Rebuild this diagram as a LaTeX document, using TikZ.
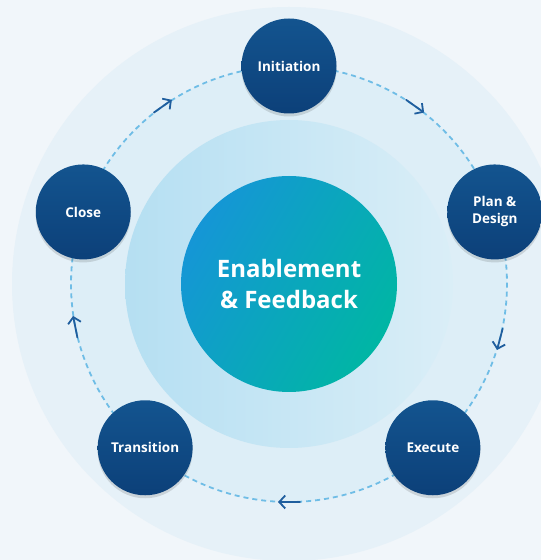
\documentclass[tikz,border=0pt]{standalone}
\usepackage{fontspec}
\setmainfont{Open Sans}
\usetikzlibrary{arrows.meta,decorations.markings,shadows}
\definecolor{bgc}{HTML}{F1F6FA}
\definecolor{outerc}{HTML}{E6F1F8}
\definecolor{ringc}{HTML}{DDEEF7}
\definecolor{midl}{HTML}{B5DFF2}
\definecolor{midr}{HTML}{DAEEF7}
\definecolor{cenl}{HTML}{1596D6}
\definecolor{cenr}{HTML}{00B6A4}
\definecolor{nodetop}{HTML}{13548F}
\definecolor{nodebot}{HTML}{0C4079}
\definecolor{dashc}{HTML}{6FBDE6}
\definecolor{arrowc}{HTML}{1F5E9E}
\pgfdeclarelayer{mid}
\pgfsetlayers{mid,main}
\tikzset{
  phase/.style={circle, minimum size=95pt, inner sep=0pt, top color=nodetop, bottom color=nodebot,
    text=white, align=center, font=\fontsize{13.5}{17}\selectfont\bfseries,
    drop shadow={shadow xshift=0pt, shadow yshift=-3pt, opacity=0.12, fill=black}},
  hub/.style={circle, minimum size=216pt, inner sep=0pt, left color=cenl, right color=cenr, shading angle=60,
    text=white, align=center, font=\fontsize{24}{31}\selectfont\bfseries},
  ring/.style={draw=dashc, line width=1.8pt, dash pattern=on 5pt off 4pt},
  flowmark/.style={postaction={decorate, decoration={markings, mark=at position #1 with {
    \draw[solid, arrowc, line width=1.8pt, line cap=round, -{Straight Barb[length=6pt,width=13pt]}] (-11pt,0) -- (11pt,0);}}}}
}
\begin{document}
\begin{tikzpicture}[x=1pt,y=1pt]
\useasboundingbox (0,0) rectangle (541,560);
\clip (0,0) rectangle (541,560);
\coordinate (c) at (289,276);
\begin{pgfonlayer}{mid}
\fill[bgc] (0,0) rectangle (541,560);
\fill[outerc] (c) circle (277pt);
\fill[ringc] (c) circle (218pt);
\shade[left color=midl, right color=midr] (c) circle (164pt);
\end{pgfonlayer}
\node[hub] (hubnode) at (c) {Enablement\\\& Feedback};
\node[phase] (init) at ([shift={(90:218pt)}]c) {Initiation};
\node[phase] (plan) at ([shift={(19.3:218pt)}]c) {Plan \&\\Design};
\node[phase] (exec) at ([shift={(-48.7:218pt)}]c) {Execute};
\node[phase] (trans) at ([shift={(-131.3:218pt)}]c) {Transition};
\node[phase] (close) at ([shift={(160.7:218pt)}]c) {Close};
\begin{pgfonlayer}{mid}
\draw[ring, flowmark=0.5] (init.center) arc[start angle=90, end angle=19.3, radius=218pt];
\draw[ring, flowmark=0.5] (plan.center) arc[start angle=19.3, end angle=-48.7, radius=218pt];
\draw[ring, flowmark=0.5] (exec.center) arc[start angle=-48.7, end angle=-131.3, radius=218pt];
\draw[ring, flowmark=0.55] (trans.center) arc[start angle=-131.3, end angle=-199.3, radius=218pt];
\draw[ring, flowmark=0.5] (close.center) arc[start angle=160.7, end angle=90, radius=218pt];
\end{pgfonlayer}
\end{tikzpicture}
\end{document}
